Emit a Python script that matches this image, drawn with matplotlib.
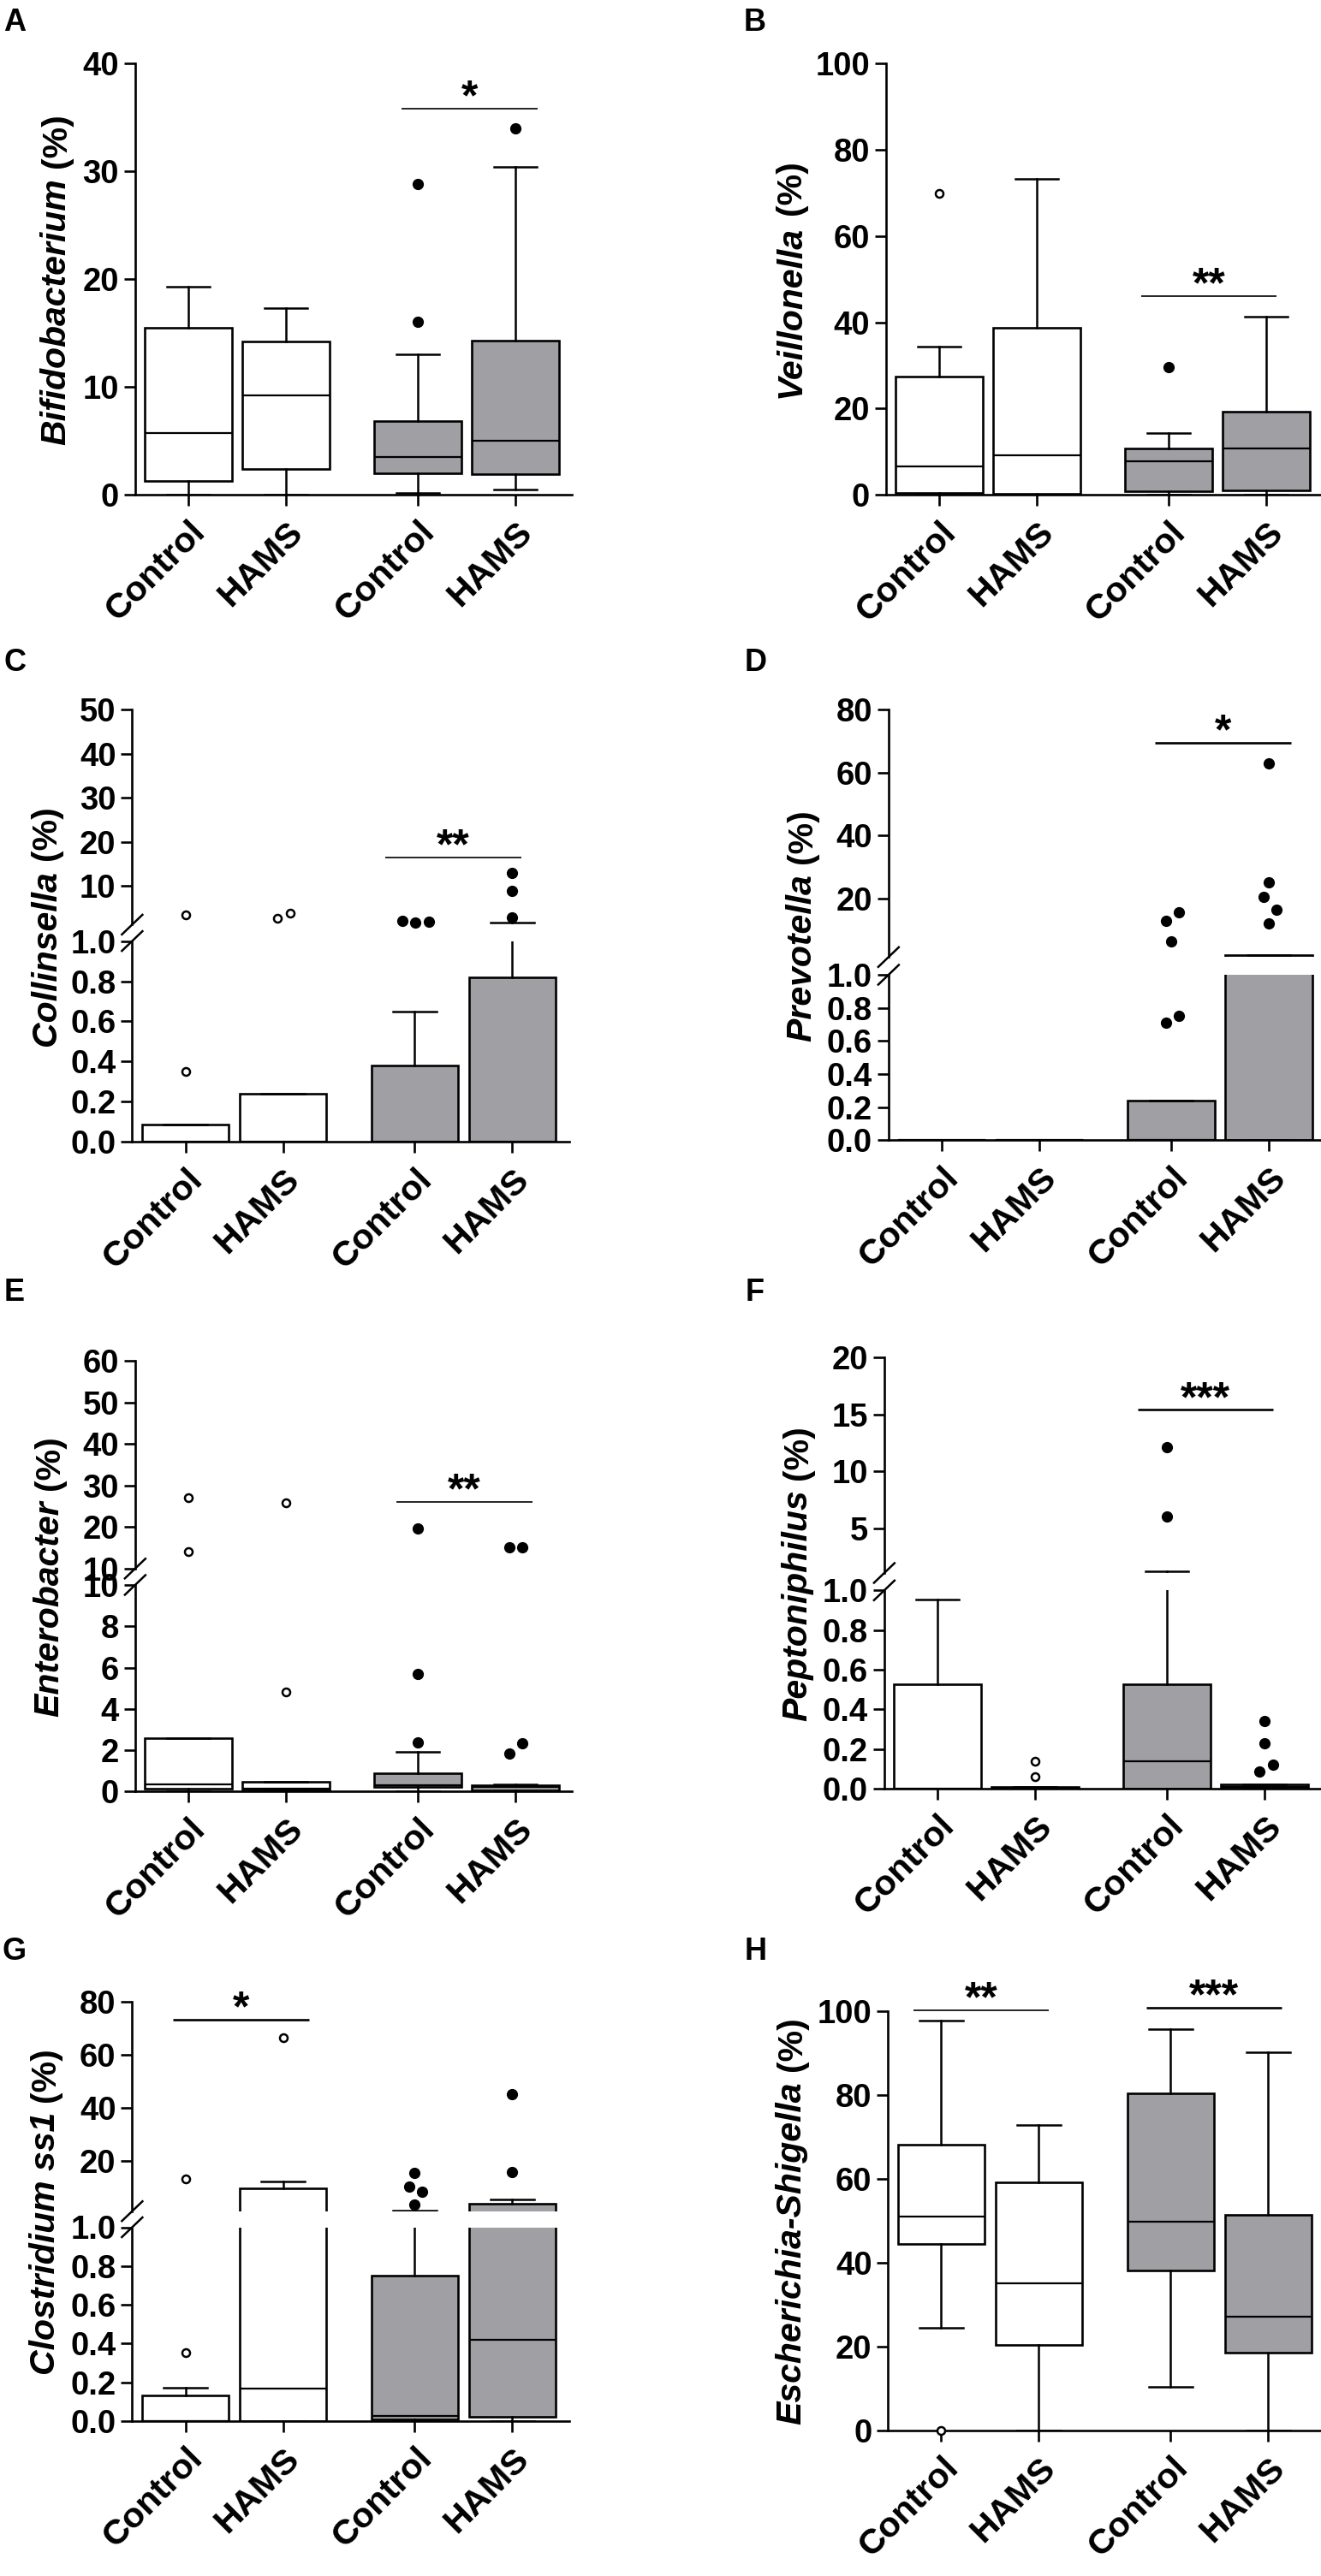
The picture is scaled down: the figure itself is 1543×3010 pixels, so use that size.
import matplotlib
matplotlib.use('Agg')
import matplotlib.pyplot as plt
from matplotlib.lines import Line2D
from matplotlib import font_manager as fm
from matplotlib.font_manager import FontProperties

# ---------------- data ----------------
groups = ['Control', 'HAMS', 'Control', 'HAMS']

# each box: (whisker low, Q1, median, Q3, whisker high)
A_stats = [(0, 1.3, 5.7, 15.5, 19.3), (0, 2.4, 9.2, 14.2, 17.3),
           (0.15, 2.0, 3.5, 6.8, 13.0), (0.5, 1.9, 5.0, 14.3, 30.4)]
A_fliers = [[], [], [16.0, 28.8], [34.0]]

B_stats = [(0, 0.5, 6.7, 27.4, 34.3), (0, 0.3, 9.1, 38.8, 73.2),
           (0, 0.8, 7.8, 10.8, 14.3), (0.1, 1.0, 10.8, 19.2, 41.3)]
B_fliers = [[69.9], [], [29.7], []]

C_stats = [(0, 0, 0, 0.087, 0.087), (0, 0, 0, 0.24, 0.24),
           (0, 0, 0, 0.38, 0.65), (0, 0, 0, 0.82, 1.6)]
C_fliers = [[0.35, 3.4], [2.7, 3.8], [2.0, 1.6, 1.8], [2.8, 8.9, 12.9]]

D_stats = [(0, 0, 0, 0, 0), (0, 0, 0, 0, 0),
           (0, 0, 0, 0.24, 0.24), (0, 0, 1.1, 1.8, 1.8)]
D_fliers = [[], [], [0.71, 0.75, 6.4, 12.7, 15.5], [11.9, 16.3, 20.5, 25.0, 63.0]]

E_stats = [(0, 0.15, 0.34, 2.6, 2.6), (0, 0.08, 0.15, 0.46, 0.46),
           (0, 0.24, 0.3, 0.9, 1.93), (0, 0.05, 0.2, 0.3, 0.35)]
E_fliers = [[14.1, 27.1], [4.8, 25.9], [2.37, 5.68, 19.6], [1.83, 2.33, 15.2, 15.2]]

F_stats = [(0, 0, 0, 0.527, 0.954), (0, 0, 0, 0.01, 0.01),
           (0, 0, 0.14, 0.527, 1.25), (0, 0, 0.01, 0.02, 0.02)]
F_fliers = [[], [0.06, 0.14], [6.05, 12.1], [0.088, 0.12, 0.23, 0.34]]

G_stats = [(0, 0, 0, 0.132, 0.17), (0, 0, 0.166, 9.6, 12.3),
           (0, 0.01, 0.026, 0.75, 1.4), (0, 0.02, 0.42, 3.8, 5.6)]
G_fliers = [[0.355, 13.2], [66.5], [3.5, 8.4, 10.4, 15.5], [15.8, 45.2]]

H_stats = [(24.5, 44.4, 50.9, 68.2, 97.6), (0, 20.3, 35.0, 59.1, 72.8),
           (10.3, 38.1, 49.7, 80.4, 95.6), (0, 18.6, 27.2, 51.4, 90.1)]
H_fliers = [[0], [], [], []]

# significance bars: (x start, x end, y, label)
A_sig = [(3.18, 4.58, 35.8, '*')]
B_sig = [(3.07, 4.46, 46.0, '**')]
C_sig = [(3.05, 4.44, 16.4, '**')]
D_sig = [(3.18, 4.58, 69.5, '*')]
E_sig = [(3.13, 4.53, 26.1, '**')]
F_sig = [(3.05, 4.44, 15.4, '***')]
G_sig = [(0.87, 2.27, 73.0, '*')]
H_sig = [(0.715, 2.10, 100.1, '**'), (3.105, 4.49, 100.8, '***')]

# ---------------- style / layout ----------------
W, H = 1543, 3010
UNIT = 114.0                     # px per x data unit
positions = [1, 2, 3.35, 4.35]
XLIM = (0.455, 4.93)
GRAY = '#a09fa4'
fills = ['white', 'white', GRAY, GRAY]

plt.rcParams['font.family'] = ['Liberation Sans', 'DejaVu Sans']
plt.rcParams['font.weight'] = 'bold'


def _wnum(w):
    if isinstance(w, (int, float)):
        return w
    return fm.weight_dict.get(str(w).lower(), 400)


def find_face(name, style):
    best = None
    for f in fm.fontManager.ttflist:
        if f.name == name and f.style == style and _wnum(f.weight) >= 600:
            if best is None or abs(_wnum(f.weight) - 700) < abs(_wnum(best.weight) - 700):
                best = f
    return best.fname if best is not None else None


def make_fp(style, size):
    for name in ['Liberation Sans', 'Arimo', 'Noto Sans', 'Roboto']:
        path = find_face(name, style)
        if path:
            return FontProperties(fname=path, size=size)
    return FontProperties(family='DejaVu Sans', style=style, weight='bold', size=size)


fig = plt.figure(figsize=(W / 100, H / 100), dpi=100)
renderer = fig.canvas.get_renderer()

YT_SIZE = 27.5
XT_SIZE = 29.8
YL_SIZE = 29.5
FP_TICK = make_fp('normal', YT_SIZE)
FP_XT = make_fp('normal', XT_SIZE)
LW = 1.9


def add_axes_px(left, top, bottom):
    width = (XLIM[1] - XLIM[0]) * UNIT
    return fig.add_axes([left / W, 1 - bottom / H, width / W, (bottom - top) / H])


def style_axes(ax, ylim, yticks, fmt, show_x):
    ax.set_xlim(*XLIM)
    ax.set_ylim(*ylim)
    ax.set_yticks(yticks)
    ax.set_yticklabels([fmt.format(t) for t in yticks], fontproperties=FP_TICK)
    for s in ['top', 'right']:
        ax.spines[s].set_visible(False)
    ax.spines['left'].set_linewidth(LW)
    ax.spines['bottom'].set_linewidth(LW)
    ax.tick_params(axis='y', width=LW, length=9.5, pad=4)
    if show_x:
        ax.set_xticks(positions)
        ax.set_xticklabels(groups, rotation=45, ha='right', va='top',
                           rotation_mode='anchor', fontproperties=FP_XT)
        ax.tick_params(axis='x', width=LW, length=9.5, pad=8)
    else:
        ax.spines['bottom'].set_visible(False)
        ax.set_xticks([])
    ax.patch.set_alpha(0)


def draw_boxes(ax, stats):
    bstats = [dict(whislo=lo, q1=q1, med=md, q3=q3, whishi=hi, fliers=[])
              for (lo, q1, md, q3, hi) in stats]
    res = ax.bxp(bstats, positions=positions, widths=0.89, patch_artist=True,
                 showfliers=False, manage_ticks=False,
                 boxprops=dict(linewidth=LW, edgecolor='black'),
                 whiskerprops=dict(linewidth=1.8, color='black'),
                 capprops=dict(linewidth=1.8, color='black'),
                 medianprops=dict(linewidth=1.6, color='black'))
    for patch, fc in zip(res['boxes'], fills):
        patch.set_facecolor(fc)


def draw_fliers(pick_ax, fliers, dx):
    for i, vals in enumerate(fliers):
        offs = dx[i] if dx else [0] * len(vals)
        for v, o in zip(vals, offs):
            ax = pick_ax(v)
            x = positions[i] + o / UNIT
            if i < 2:
                ax.plot([x], [v], 'o', ms=6.5, mfc='white', mec='black', mew=1.8,
                        clip_on=False, zorder=6)
            else:
                ax.plot([x], [v], 'o', ms=8.5, mfc='black', mec='black',
                        clip_on=False, zorder=6)


def draw_sig(ax, sigs, lws):
    for (x0, x1, y, lab), lw in zip(sigs, lws):
        ax.plot([x0, x1], [y, y], color='black', lw=lw, clip_on=False,
                solid_capstyle='butt')
        ax.annotate(lab, xy=((x0 + x1) / 2, y), xytext=(0, -1),
                    textcoords='offset points', ha='center', va='baseline',
                    fontproperties=make_fp('normal', 36), annotation_clip=False)


def break_mark(xc, yc):
    dx, dy = 12, 11.5
    fig.add_artist(Line2D([(xc - dx) / W, (xc + dx) / W],
                          [1 - (yc + dy) / H, 1 - (yc - dy) / H],
                          transform=fig.transFigure, color='black', lw=1.8))


def ylabel(xc, yc, genus, rest='(%)'):
    kw = dict(rotation=90, rotation_mode='anchor', ha='left', va='baseline')
    t1 = fig.text(0, 0, genus, fontproperties=make_fp('italic', YL_SIZE), **kw)
    t2 = fig.text(0, 0, rest, fontproperties=make_fp('normal', YL_SIZE), **kw)
    l1 = t1.get_window_extent(renderer).height
    l2 = t2.get_window_extent(renderer).height
    em = YL_SIZE * 100 / 72
    gap = 0.3 * em
    total = l1 + gap + l2
    y0 = yc + total / 2
    xb = xc + 0.36 * em
    t1.set_position((xb / W, 1 - y0 / H))
    t2.set_position((xb / W, 1 - (y0 - l1 - gap) / H))


def letter_text(letter, lx, ly):
    fig.text(lx / W, 1 - ly / H, letter, ha='center', va='center',
             fontproperties=make_fp('normal', 26))


def panel_single(letter, lx, ly, c1, top, bottom, ylim, yticks, fmt,
                 stats, fliers, dx, sigs, sig_lws, genus, ylab_x):
    left = c1 - (positions[0] - XLIM[0]) * UNIT
    ax = add_axes_px(left, top, bottom)
    style_axes(ax, ylim, yticks, fmt, True)
    draw_boxes(ax, stats)
    draw_fliers(lambda v: ax, fliers, dx)
    draw_sig(ax, sigs, sig_lws)
    ylabel(ylab_x, (top + bottom) / 2, genus)
    letter_text(letter, lx, ly)


def panel_broken(letter, lx, ly, c1, up, lo, stats, fliers, dx, sigs, sig_lws,
                 genus, ylab_x):
    left = c1 - (positions[0] - XLIM[0]) * UNIT
    (ut, ub, ulim, uticks, ufmt) = up
    (lt, lb, llim, lticks, lfmt) = lo
    axu = add_axes_px(left, ut, ub)
    axl = add_axes_px(left, lt, lb)
    style_axes(axu, ulim, uticks, ufmt, False)
    style_axes(axl, llim, lticks, lfmt, True)
    draw_boxes(axu, stats)
    draw_boxes(axl, stats)
    draw_fliers(lambda v: axl if v <= llim[1] else axu, fliers, dx)
    draw_sig(axu, sigs, sig_lws)
    break_mark(left, ub)
    break_mark(left, lt)
    ylabel(ylab_x, (ut + lb) / 2, genus)
    letter_text(letter, lx, ly)


f1 = '{:.1f}'
f0 = '{:g}'
lower01 = [0, 0.2, 0.4, 0.6, 0.8, 1.0]

panel_single('A', 17, 26, 220, 74, 578, (0, 40), [0, 10, 20, 30, 40], f0,
             A_stats, A_fliers, None, A_sig, [1.2], 'Bifidobacterium', 62)
panel_single('B', 882, 26, 1097, 74, 578.3, (0, 100), [0, 20, 40, 60, 80, 100], f0,
             B_stats, B_fliers, None, B_sig, [1.2], 'Veillonella', 920)
panel_broken('C', 17, 774, 216.5,
             (829.4, 1080.4, (1.2, 50), [10, 20, 30, 40, 50], f0),
             (1099.6, 1334.2, (0, 1.0), lower01, f1),
             C_stats, C_fliers, [[0, 0], [-6.5, 8.5], [-14, 1, 17], [0, 0, 0]],
             C_sig, [1.2], 'Collinsella', 50)
panel_broken('D', 883, 774, 1100,
             (829.4, 1118.3, (1.3, 80), [20, 40, 60, 80], f0),
             (1139, 1332.3, (0, 1.0), lower01, f1),
             D_stats, D_fliers, [[], [], [-6, 9.5, 0, -6, 9.5], [0, 9, -6, 0, 0]],
             D_sig, [1.9], 'Prevotella', 933)
panel_broken('E', 17, 1511, 220,
             (1590, 1832.8, (10, 60), [10, 20, 30, 40, 50, 60], f0),
             (1852, 2093.3, (0, 10), [0, 2, 4, 6, 8, 10], f0),
             E_stats, E_fliers, [[0, 0], [0, 0], [0, 0, 0], [-6.5, 8.5, -6.5, 8.5]],
             E_sig, [1.2], 'Enterobacter', 54)
panel_broken('F', 882, 1511, 1095,
             (1586.2, 1838, (1.1, 20), [5, 10, 15, 20], f0),
             (1858.3, 2090, (0, 1.0), lower01, f1),
             F_stats, F_fliers, [[], [0, 0], [0, 0], [-6, 10, 0, 0]],
             F_sig, [1.9], 'Peptoniphilus', 928)
panel_broken('G', 17, 2280, 216.5,
             (2338.6, 2583.7, (1.1, 80), [20, 40, 60, 80], f0),
             (2602.5, 2829, (0, 1.0), lower01, f1),
             G_stats, G_fliers, [[0, 0], [0], [0, 9, -6, 0], [0, 0]],
             G_sig, [1.9], 'Clostridium ss1', 49)
panel_single('H', 883, 2280, 1099.5, 2349.6, 2840, (0, 100), [0, 20, 40, 60, 80, 100], f0,
             H_stats, H_fliers, None, H_sig, [1.2, 1.9], 'Escherichia-Shigella', 921)

fig.savefig('out.png', dpi=100, facecolor='white')
